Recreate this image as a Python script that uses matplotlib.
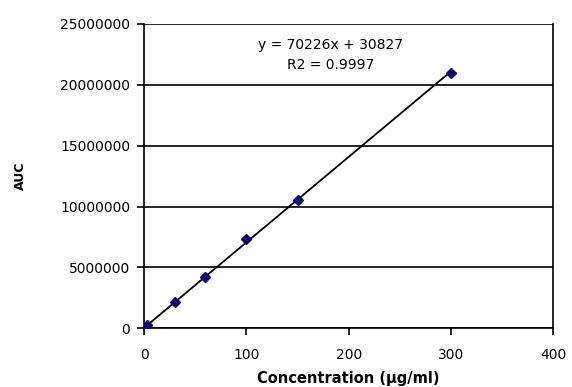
import numpy as np
import matplotlib.pyplot as plt

# Kalibracijska krivulja
conc = [1, 3, 30, 60, 100, 150, 300]
auc = [70000, 240000, 2140000, 4200000, 7300000, 10500000, 20970000]
slope = 70226
intercept = 30827
r2 = 0.9997

plt.rcParams['font.family'] = ['DejaVu Sans']

fig = plt.figure(figsize=(5.72, 3.87), dpi=100)
ax = fig.add_axes([0.252, 0.152, 0.715, 0.786])

# linija trenda
xt = np.array([0, 300])
ax.plot(xt, slope * xt + intercept, color='black', lw=1.3, zorder=3)
ax.plot(conc, auc, linestyle='none', marker='D', markersize=5,
        color='#0a0a6e', zorder=4)

ax.set_xlim(0, 400)
ax.set_ylim(0, 25000000)
ax.set_xticks([0, 100, 200, 300, 400])
ax.set_yticks(range(0, 25000001, 5000000))
ax.set_yticklabels([str(v) for v in range(0, 25000001, 5000000)])
ax.yaxis.grid(True, color='black', lw=1.2)
ax.set_axisbelow(True)

for s in ['left', 'bottom', 'right']:
    ax.spines[s].set_linewidth(1.2)
ax.spines['top'].set_visible(False)
ax.tick_params(direction='out', length=5, width=1.2, labelsize=10, pad=5)
ax.tick_params(axis='x', pad=9)

ax.text(0.455, 0.955, f'y = {slope}x + {intercept}\nR2 = {r2}', transform=ax.transAxes,
        ha='center', va='top', fontsize=10, linespacing=1.55)

ax.set_xlabel('Concentration (µg/ml)', fontsize=10.5, fontweight='bold', labelpad=7)
ax.set_ylabel('AUC', fontsize=9, fontweight='bold', labelpad=24)

fig.savefig('out.png', dpi=100)
